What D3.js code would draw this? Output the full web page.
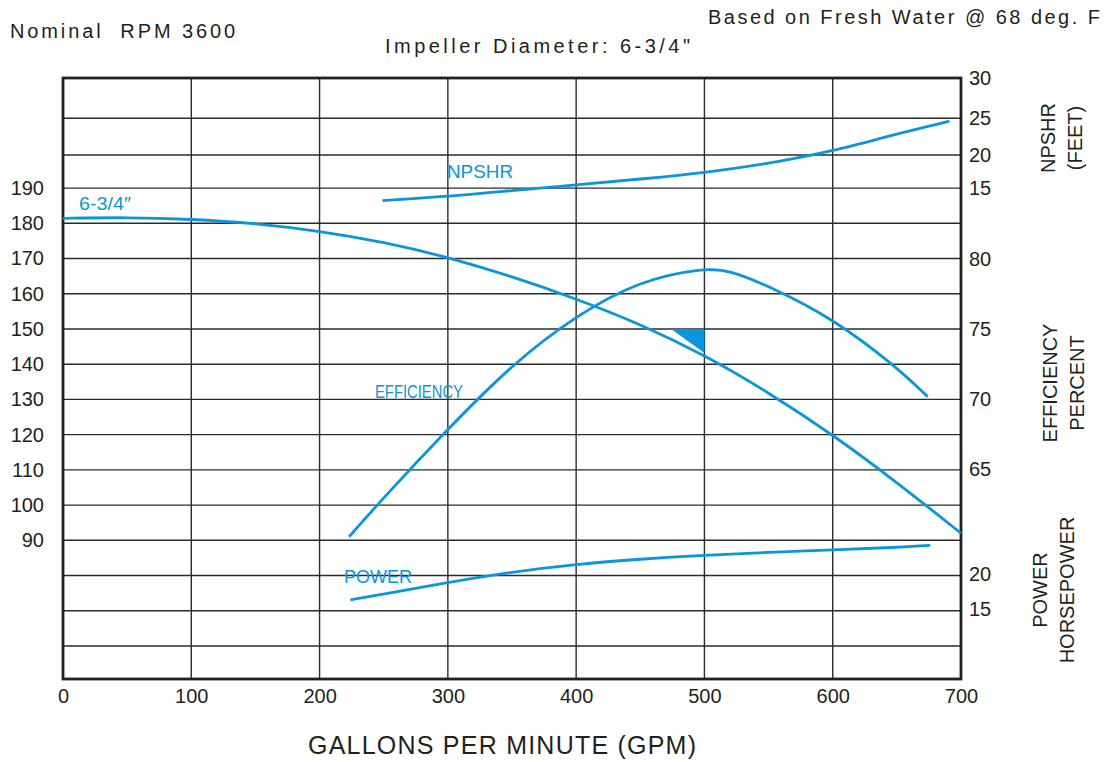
<!DOCTYPE html>
<html>
<head>
<meta charset="utf-8">
<script src="https://cdn.jsdelivr.net/npm/d3@7"></script>
<style>
body { margin: 0; background: #fff; }
text { font-family: "Liberation Sans", Arial, sans-serif; fill: #231f20; }
</style>
</head>
<body>
<svg id="chart" width="1112" height="762"></svg>
<script>
// values
var gpmTicks = [0, 100, 200, 300, 400, 500, 600, 700];
var headTicks = [90, 100, 110, 120, 130, 140, 150, 160, 170, 180, 190];
var npshrTicks = [15, 20, 25, 30];
var effTicks = [65, 70, 75, 80];
var powerTicks = [15, 20];

// [gpm, value]
var headCurve = [[0, 181.4], [50, 181.7], [100, 181.2], [150, 180], [200, 177.8], [250, 174.7], [300, 170.4],
  [350, 164.9], [400, 158.6], [450, 151.4], [500, 142.6], [550, 132], [600, 120], [650, 106.5], [700, 92]];
var npshrCurve = [[249, 13.2], [300, 13.8], [350, 14.7], [400, 15.55], [450, 16.4], [500, 17.35], [550, 18.7],
  [600, 20.5], [650, 22.9], [691, 24.6]];
var effCurve = [[223, 60.2], [250, 63], [300, 67.9], [350, 72.5], [400, 76], [450, 78.5], [500, 79.4],
  [520, 79.2], [550, 78.1], [600, 75.8], [650, 72.3], [674, 70.2]];
var powerCurve = [[224, 16.25], [250, 17.1], [300, 18.75], [350, 20.25], [400, 21.35], [450, 22.1], [500, 22.65],
  [550, 23.05], [600, 23.4], [650, 23.75], [676, 24.05]];
// best efficiency point marker (gpm, head)
var bepMarker = [[474, 150], [500, 150], [500, 143.2]];

var blue = "#0a95dc";
var svg = d3.select("#chart");

// plot box
var plotLeft = 63, plotRight = 961, plotTop = 78, plotBottom = 679;

var x = d3.scaleLinear().domain([0, 700]).range([plotLeft, plotRight]);
var yHead = d3.scaleLinear().domain([90, 180]).range([540.3, 223.3]);
var yNpshr = d3.scaleLinear().domain([15, 20, 25, 30]).range([188.5, 155, 118.3, 78]);
var yEff = d3.scaleLinear().domain([65, 80]).range([469.5, 259.3]);
var yPower = d3.scaleLinear().domain([15, 20]).range([608.7, 573.7]);

// grid
var hLines = [60, 70, 80].concat(headTicks).map(function(d) { return yHead(d); })
  .concat([yNpshr(20), yNpshr(25)]);
var grid = svg.append("g").attr("stroke", "#2b2b2b").attr("stroke-width", 1.4);
grid.selectAll(".h").data(hLines).enter().append("line")
  .attr("x1", plotLeft).attr("x2", plotRight)
  .attr("y1", function(d) { return d; }).attr("y2", function(d) { return d; });
grid.selectAll(".v").data(gpmTicks.slice(1, -1)).enter().append("line")
  .attr("y1", plotTop).attr("y2", plotBottom)
  .attr("x1", function(d) { return x(d); }).attr("x2", function(d) { return x(d); });

svg.append("rect").attr("x", plotLeft).attr("y", plotTop)
  .attr("width", plotRight - plotLeft).attr("height", plotBottom - plotTop)
  .attr("fill", "none").attr("stroke", "#231f20").attr("stroke-width", 2.8);

// axes
function styleAxis(g) {
  g.select(".domain").remove();
  g.selectAll("text").style("font-family", "'Liberation Sans', Arial, sans-serif")
    .style("font-size", "20px").attr("fill", "#231f20");
}
svg.append("g").attr("transform", "translate(" + plotLeft + ",0)")
  .call(d3.axisLeft(yHead).tickValues(headTicks).tickSize(0).tickPadding(19).tickFormat(d3.format("d")))
  .call(styleAxis);
svg.append("g").attr("transform", "translate(0," + plotBottom + ")")
  .call(d3.axisBottom(x).tickValues(gpmTicks).tickSize(0).tickPadding(10).tickFormat(d3.format("d")))
  .call(styleAxis);
[[yNpshr, npshrTicks], [yEff, effTicks], [yPower, powerTicks]].forEach(function(a) {
  svg.append("g").attr("transform", "translate(" + plotRight + ",0)")
    .call(d3.axisRight(a[0]).tickValues(a[1]).tickSize(0).tickPadding(8).tickFormat(d3.format("d")))
    .call(styleAxis);
});

// curves
function drawCurve(data, yScale) {
  var line = d3.line().curve(d3.curveBasis)
    .x(function(d) { return x(d[0]); }).y(function(d) { return yScale(d[1]); });
  svg.append("path").datum(data).attr("d", line)
    .attr("fill", "none").attr("stroke", blue).attr("stroke-width", 2.8);
}
drawCurve(headCurve, yHead);
drawCurve(npshrCurve, yNpshr);
drawCurve(effCurve, yEff);
drawCurve(powerCurve, yPower);

svg.append("path").datum(bepMarker)
  .attr("d", d3.line().x(function(d) { return x(d[0]); }).y(function(d) { return yHead(d[1]); }))
  .attr("fill", blue);

// curve labels
function curveLabel(t, px, py, w) {
  svg.append("text").attr("x", px).attr("y", py).text(t)
    .attr("textLength", w).attr("lengthAdjust", "spacingAndGlyphs")
    .style("font-size", "18px").style("fill", blue);
}
curveLabel("6-3/4\u2033", 79, 210, 52);
curveLabel("NPSHR", 447, 178, 66);
curveLabel("EFFICIENCY", 375, 398, 88);
curveLabel("POWER", 344, 583, 68);

// titles
function title(t, px, py, size, w) {
  svg.append("text").attr("x", px).attr("y", py).text(t)
    .attr("textLength", w).attr("lengthAdjust", "spacing")
    .style("font-size", size + "px");
}
title("Nominal\u00a0 RPM 3600", 10, 38, 20, 225);
title("Impeller Diameter: 6-3/4\"", 385, 53, 20, 305);
title("Based on Fresh Water @ 68 deg. F", 708, 24, 20, 392);
title("GALLONS PER MINUTE (GPM)", 308, 754, 25, 388);

// right side axis titles, rotated
function sideTitle(lines, cx, cy) {
  lines.forEach(function(t, i) {
    svg.append("text")
      .attr("transform", "translate(" + (cx + i * 27) + "," + cy + ") rotate(-90)")
      .attr("text-anchor", "middle").text(t)
      .style("font-size", "20px");
  });
}
sideTitle(["NPSHR", "(FEET)"], 1055, 138);
sideTitle(["EFFICIENCY", "PERCENT"], 1057, 383);
sideTitle(["POWER", "HORSEPOWER"], 1047, 590);
</script>
</body>
</html>
